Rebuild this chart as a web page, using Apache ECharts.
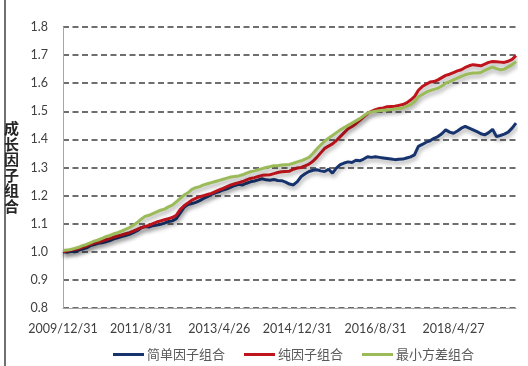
<!DOCTYPE html>
<html>
<head>
<meta charset="utf-8">
<script src="https://cdn.jsdelivr.net/npm/echarts@6/dist/echarts.min.js"></script>
<style>
html,body{margin:0;padding:0;background:#fff;}
#chart{width:528px;height:366px;}
</style>
</head>
<body>
<div id="chart"></div>
<script>
// ---- data ----
const startYear = 2009, startMonth = 12, monthCount = 117;
const tickLabels = ['2009/12/31','2011/8/31','2013/4/26','2014/12/31','2016/8/31','2018/4/27'];
const seriesNames = ['简单因子组合','纯因子组合','最小方差组合'];
const simpleFactor = [
1.000,0.998,1.002,1.000,1.006,1.010,1.014,1.022,1.026,1.030,
1.032,1.036,1.040,1.046,1.050,1.054,1.058,1.062,1.068,1.075,
1.085,1.090,1.088,1.093,1.095,1.098,1.102,1.108,1.110,1.118,
1.138,1.158,1.168,1.172,1.176,1.182,1.190,1.196,1.204,1.210,
1.214,1.220,1.224,1.230,1.236,1.240,1.238,1.244,1.249,1.252,
1.256,1.260,1.256,1.255,1.257,1.254,1.253,1.248,1.241,1.238,
1.250,1.268,1.278,1.286,1.290,1.292,1.288,1.286,1.294,1.280,
1.298,1.310,1.316,1.320,1.318,1.326,1.324,1.330,1.338,1.336,
1.338,1.336,1.334,1.332,1.330,1.328,1.329,1.330,1.334,1.338,
1.345,1.375,1.382,1.390,1.395,1.404,1.410,1.420,1.434,1.426,
1.422,1.430,1.440,1.446,1.440,1.434,1.428,1.420,1.416,1.424,
1.436,1.410,1.414,1.419,1.426,1.440,1.458];
const pureFactor = [
1.000,1.003,1.006,1.008,1.011,1.016,1.020,1.026,1.031,1.034,
1.038,1.043,1.047,1.052,1.056,1.060,1.064,1.068,1.074,1.080,
1.086,1.090,1.094,1.100,1.106,1.110,1.114,1.118,1.122,1.130,
1.150,1.164,1.174,1.184,1.190,1.196,1.200,1.204,1.208,1.214,
1.220,1.226,1.232,1.238,1.242,1.246,1.250,1.256,1.261,1.264,
1.268,1.272,1.273,1.274,1.278,1.282,1.285,1.286,1.287,1.294,
1.298,1.300,1.306,1.312,1.322,1.336,1.352,1.368,1.376,1.384,
1.396,1.410,1.424,1.438,1.446,1.456,1.468,1.480,1.492,1.500,
1.506,1.510,1.512,1.516,1.517,1.518,1.521,1.524,1.530,1.540,
1.552,1.575,1.588,1.596,1.604,1.606,1.612,1.620,1.628,1.632,
1.638,1.644,1.648,1.656,1.662,1.666,1.664,1.662,1.668,1.674,
1.677,1.676,1.675,1.674,1.678,1.685,1.698];
const minVariance = [
1.005,1.006,1.008,1.012,1.016,1.022,1.026,1.032,1.038,1.042,
1.048,1.054,1.058,1.064,1.068,1.074,1.080,1.086,1.094,1.104,
1.116,1.126,1.130,1.136,1.142,1.148,1.152,1.160,1.166,1.178,
1.190,1.202,1.210,1.222,1.228,1.232,1.238,1.242,1.246,1.250,
1.254,1.258,1.262,1.266,1.268,1.270,1.274,1.280,1.285,1.288,
1.292,1.296,1.300,1.303,1.306,1.306,1.309,1.310,1.311,1.315,
1.320,1.324,1.330,1.336,1.350,1.366,1.380,1.394,1.404,1.414,
1.424,1.434,1.442,1.450,1.458,1.466,1.474,1.484,1.494,1.498,
1.500,1.502,1.504,1.505,1.506,1.508,1.510,1.512,1.518,1.524,
1.535,1.552,1.560,1.568,1.574,1.578,1.582,1.590,1.600,1.606,
1.612,1.618,1.624,1.630,1.634,1.636,1.636,1.638,1.646,1.652,
1.657,1.652,1.648,1.650,1.658,1.666,1.677];

// month categories; labelled ticks use the dates shown in the chart
const categories = [];
for (let i = 0; i < monthCount; i++) {
  const m0 = startMonth - 1 + i;
  const y = startYear + Math.floor(m0 / 12);
  const m = (m0 % 12) + 1;
  categories.push(y + '/' + m);
}
tickLabels.forEach((t, k) => { categories[k * 20] = t; });

const colors = ['#17336e', '#c0141c', '#9bbb59'];
const values = [simpleFactor, pureFactor, minVariance];

const chart = echarts.init(document.getElementById('chart'));
chart.setOption({
  animation: false,
  backgroundColor: '#ffffff',
  grid: { left: 63, right: 12, top: 27, bottom: 58 },
  legend: {
    left: 108, top: 343,
    itemWidth: 31, itemHeight: 3, itemGap: 19,
    icon: 'rect',
    textStyle: { fontFamily: 'Noto Sans CJK SC', fontSize: 13, color: '#595959', padding: [0,0,0,-2] },
    data: seriesNames
  },
  xAxis: {
    type: 'category',
    boundaryGap: false,
    data: categories,
    axisLine: { show: true, lineStyle: { color: '#a6a6a6', width: 1 } },
    axisTick: { show: false },
    axisLabel: { interval: 19, color: '#404040', fontFamily: 'Lato', fontSize: 12.5, margin: 14 },
    splitLine: { show: false }
  },
  yAxis: {
    type: 'value',
    min: 0.8, max: 1.8, interval: 0.1,
    name: '成\n长\n因\n子\n组\n合',
    nameLocation: 'middle',
    nameRotate: 0,
    nameGap: 44,
    nameTextStyle: { fontFamily: 'Noto Sans CJK SC', fontWeight: 'bold', fontSize: 15, lineHeight: 15.5, color: '#262626' },
    axisLine: { show: true, lineStyle: { color: '#a6a6a6', width: 1 } },
    axisTick: { show: false },
    axisLabel: { color: '#404040', fontFamily: 'Lato', fontSize: 12.5, margin: 15, formatter: v => v.toFixed(1) },
    splitLine: { show: true, lineStyle: { color: '#3f3f3f', width: 1.5, type: [6, 3.5] } }
  },
  graphic: [{
    type: 'line', shape: { x1: 5, y1: 0, x2: 5, y2: 366 },
    style: { stroke: '#404040', lineWidth: 1.5 }
  }],
  series: seriesNames.map((n, k) => ({
    name: n,
    type: 'line',
    data: values[k],
    symbol: 'none',
    color: colors[k],
    lineStyle: { width: 3, color: colors[k], shadowColor: 'rgba(0,0,0,0.35)', shadowBlur: 4, shadowOffsetX: 1, shadowOffsetY: 3 }
  }))
});
</script>
</body>
</html>
